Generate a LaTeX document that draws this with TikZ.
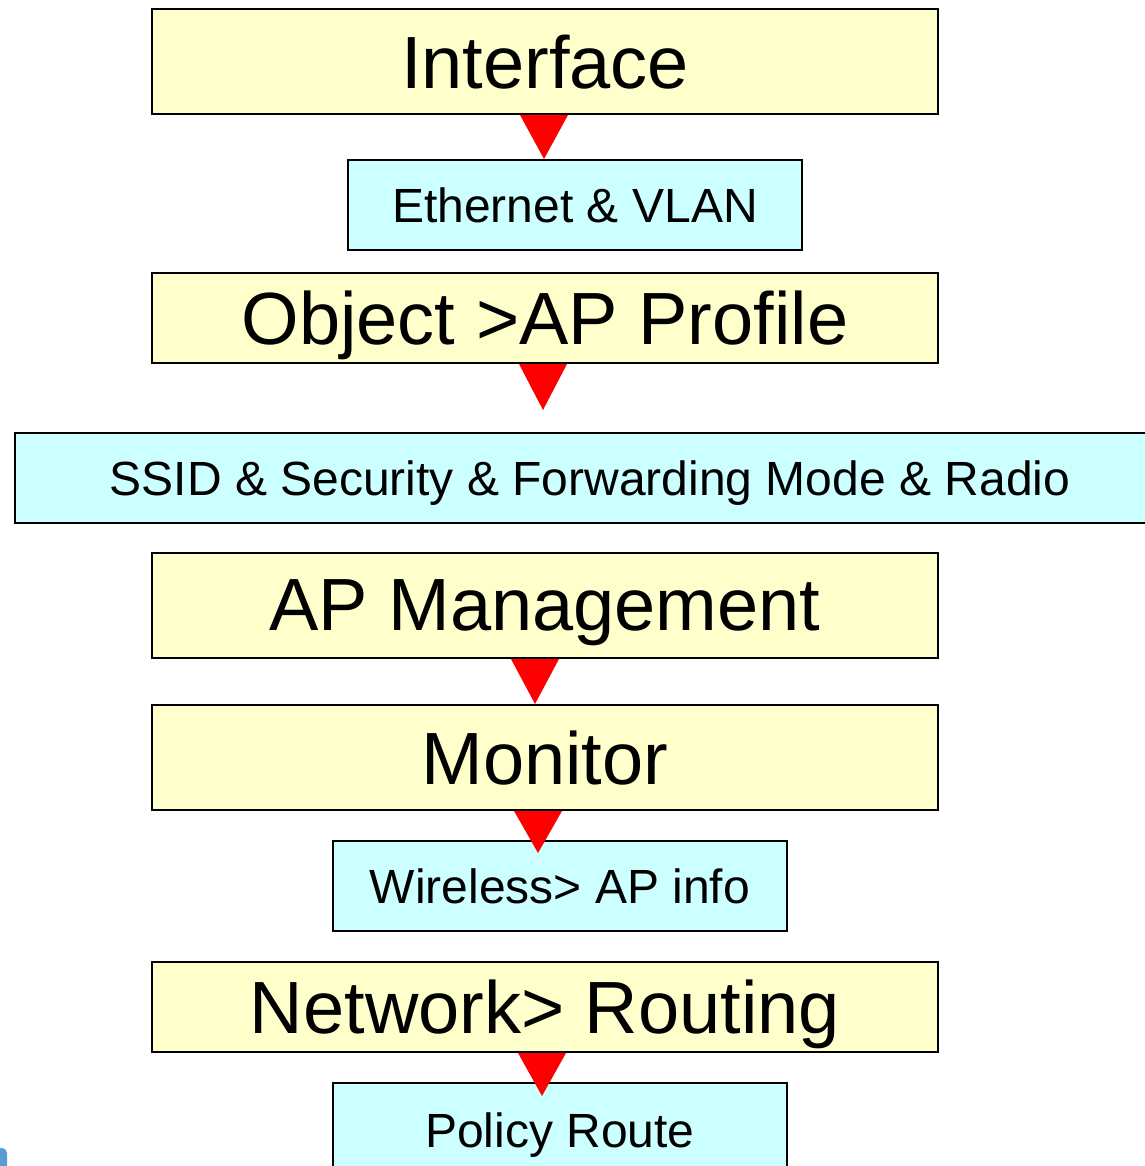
\documentclass[tikz,border=0pt]{standalone}
\usepackage{fontspec}
\setmainfont{Liberation Sans}
\usetikzlibrary{calc}
\definecolor{ybg}{HTML}{FFFFCC}
\definecolor{cbg}{HTML}{CCFFFF}
\definecolor{blob}{HTML}{5B9BD5}
\begin{document}
\begin{tikzpicture}[x=1pt,y=-1pt,
  box/.style={draw=black, line width=2pt, inner sep=0pt, text depth=0pt, anchor=north west},
  bigbox/.style={box, fill=ybg, font=\fontsize{74}{80}\selectfont},
  smallbox/.style={box, fill=cbg, font=\fontsize{48}{54}\selectfont},
  tri/.style={fill=red}]
\useasboundingbox (0,0) rectangle (1144,1166);
\fill[white] (0,0) rectangle (1144,1166);

\node[bigbox, minimum width=786pt, minimum height=105pt] (iface) at (151,8) {Interface};
\node[smallbox, minimum width=454pt, minimum height=90pt] (eth) at (347,159) {Ethernet \& VLAN};
\node[bigbox, minimum width=786pt, minimum height=90pt] (obj) at (151,272) {Object >AP Profile};
\node[smallbox, minimum width=1150pt, minimum height=90pt] (ssid) at (14,432) {SSID \& Security \& Forwarding Mode \& Radio};
\node[bigbox, minimum width=786pt, minimum height=105pt] (apm) at (151,552) {AP Management};
\node[bigbox, minimum width=786pt, minimum height=105pt] (mon) at (151,704) {Monitor};
\node[smallbox, minimum width=454pt, minimum height=90pt] (wap) at (332,840) {Wireless> AP info};
\node[bigbox, minimum width=786pt, minimum height=90pt] (net) at (151,961) {Network> Routing};
\node[smallbox, minimum width=454pt, minimum height=94pt] (pol) at (332,1082) {Policy Route};

% x guide coordinates for the triangles
\coordinate (xa) at (520,0); \coordinate (xb) at (568,0); \coordinate (xc) at (544,0);
\coordinate (xd) at (519,0); \coordinate (xe) at (567,0); \coordinate (xf) at (543,0);
\coordinate (xg) at (511,0); \coordinate (xh) at (559,0); \coordinate (xi) at (535,0);
\coordinate (xj) at (514,0); \coordinate (xk) at (562,0); \coordinate (xl) at (538,0);
\coordinate (xm) at (518,0); \coordinate (xn) at (566,0); \coordinate (xo) at (542,0);

% red arrow triangles
\fill[tri] (iface.south -| xa) -- (iface.south -| xb) -- (eth.north -| xc) -- cycle;
\fill[tri] (obj.south -| xd) -- (obj.south -| xe) -- ($(obj.south -| xf)+(0,46)$) -- cycle;
\fill[tri] (apm.south -| xg) -- (apm.south -| xh) -- (mon.north -| xi) -- cycle;
\fill[tri] (mon.south -| xj) -- (mon.south -| xk) -- ($(wap.north -| xl)+(0,13)$) -- cycle;
\fill[tri] (net.south -| xm) -- (net.south -| xn) -- ($(pol.north -| xo)+(0,14)$) -- cycle;

% small blue fragment at bottom-left corner
\fill[blob, rounded corners=5pt] (-10,1148) rectangle (7,1185);
\end{tikzpicture}
\end{document}
